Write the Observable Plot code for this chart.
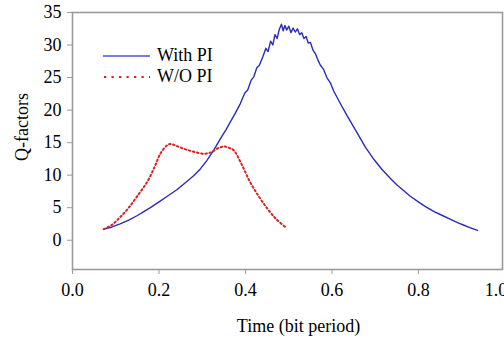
<!DOCTYPE html>
<html>
<head>
<meta charset="utf-8">
<script src="https://cdn.jsdelivr.net/npm/d3@7"></script>
<script src="https://cdn.jsdelivr.net/npm/@observablehq/plot@0.6"></script>
<style>
  html, body { margin: 0; padding: 0; background: #fff; overflow: hidden; }
  #wrap { position: relative; width: 504px; height: 339px; font-family: "Liberation Serif", "Times New Roman", serif; }
  #legend { position: absolute; left: 103px; top: 45px; font-size: 18px; color: #000; line-height: 21px; }
  #legend .row { display: flex; align-items: center; height: 21px; }
  #legend svg { margin-right: 7px; }
</style>
</head>
<body>
<div id="wrap"><div id="chart"></div>
  <div id="legend">
    <div class="row"><svg width="47" height="6"><line x1="0" y1="3" x2="47" y2="3" stroke="#7c7ce0" stroke-width="2"/></svg>With PI</div>
    <div class="row"><svg width="47" height="6"><line x1="1" y1="3" x2="47" y2="3" stroke="#e01818" stroke-width="2.2" stroke-dasharray="2.2,5.3"/></svg>W/O PI</div>
  </div>
</div>
<script>
// With PI (blue)
const withX = [0.072,0.09,0.11,0.13,0.15,0.165,0.18,0.20,0.22,0.242,0.26,0.28,0.296,0.31,0.327,0.342,0.355,0.365,0.377,0.388,0.398,0.405,0.413,0.419,0.426,0.432,0.440,0.447,0.452,0.458,0.463,0.468,0.473,0.478,0.483,0.487,0.491,0.495,0.50,0.505,0.51,0.515,0.52,0.525,0.53,0.535,0.54,0.545,0.55,0.556,0.562,0.568,0.573,0.58,0.588,0.596,0.604,0.62,0.635,0.658,0.677,0.697,0.715,0.735,0.75,0.766,0.78,0.797,0.815,0.836,0.855,0.874,0.89,0.905,0.92,0.936];
const withY = [1.7,2.0,2.5,3.1,3.8,4.4,5.0,5.9,6.8,7.8,8.8,9.9,11.0,12.2,13.9,15.6,17.0,18.2,19.6,21.0,22.6,23.1,24.6,25.1,26.5,26.9,28.2,29.5,29.0,30.6,30.0,31.6,31.0,32.4,33.2,32.2,33.0,32.3,32.9,31.9,32.6,32.0,32.5,31.6,31.9,31.0,31.3,30.3,30.4,29.2,28.6,27.6,26.9,26.3,25.0,24.2,22.9,20.9,19.1,16.5,14.3,12.4,10.9,9.5,8.5,7.6,6.8,6.0,5.2,4.4,3.8,3.2,2.7,2.3,1.9,1.5];
// W/O PI (red dotted)
const woX = [0.072,0.09,0.111,0.13,0.15,0.173,0.19,0.203,0.219,0.227,0.24,0.26,0.28,0.304,0.32,0.335,0.35,0.362,0.373,0.39,0.41,0.43,0.45,0.47,0.4925];
const woY = [1.7,2.3,3.6,5.0,6.8,9.0,11.3,13.3,14.6,14.8,14.5,14.0,13.6,13.3,13.5,14.1,14.4,14.2,13.8,11.8,9.0,6.8,4.9,3.3,2.0];
const xTicks = [0, 0.2, 0.4, 0.6, 0.8];
const xLastTick = [1.0];
const yTicks = [0, 5, 10, 15, 20, 25, 30, 35];
const xTitle = "Time (bit period)";
const yTitle = "Q-factors";

const withData = withX.map((x, i) => ({x, y: withY[i]}));
const woData = woX.map((x, i) => ({x, y: woY[i]}));
const FS = 18;

const chart = Plot.plot({
  width: 504,
  height: 339,
  marginLeft: 72,
  marginRight: 2,
  marginTop: 12,
  marginBottom: 70,
  style: {fontFamily: "'Liberation Serif', 'Times New Roman', serif", fontSize: FS + "px", background: "#fff", overflow: "visible"},
  x: {domain: [0, 0.994]},
  y: {domain: [-4.5, 35]},
  marks: [
    Plot.frame({stroke: "#9a9a9a", strokeWidth: 1.6}),
    Plot.axisX({ticks: xTicks, tickFormat: d => d.toFixed(1), tickSize: 5, tickPadding: 9, stroke: "#9a9a9a", color: "#000", label: null, fontSize: FS}),
    Plot.text(xLastTick, {x: d => d, frameAnchor: "bottom", lineAnchor: "top", dy: 14, dx: -9, text: d => d.toFixed(1), fontSize: FS, fill: "#000"}),
    Plot.axisY({ticks: yTicks, tickFormat: d => String(d), tickSize: 5, tickPadding: 6, stroke: "#9a9a9a", color: "#000", label: null, fontSize: FS}),
    Plot.line(withData, {x: "x", y: "y", stroke: "#2b2bbf", strokeWidth: 1.4, curve: "linear"}),
    Plot.line(woData, {x: "x", y: "y", stroke: "#d92020", strokeWidth: 2, strokeDasharray: "1.6,2.6", curve: "catmull-rom"}),
    Plot.text([xTitle], {frameAnchor: "bottom", lineAnchor: "middle", textAnchor: "middle", dx: 11, dy: 57, text: d => d, fontSize: FS, fill: "#000"}),
    Plot.text([yTitle], {frameAnchor: "left", lineAnchor: "middle", textAnchor: "middle", dx: -50, dy: -14, rotate: -90, text: d => d, fontSize: FS, fill: "#000"})
  ]
});
document.getElementById("chart").appendChild(chart);
</script>
</body>
</html>
